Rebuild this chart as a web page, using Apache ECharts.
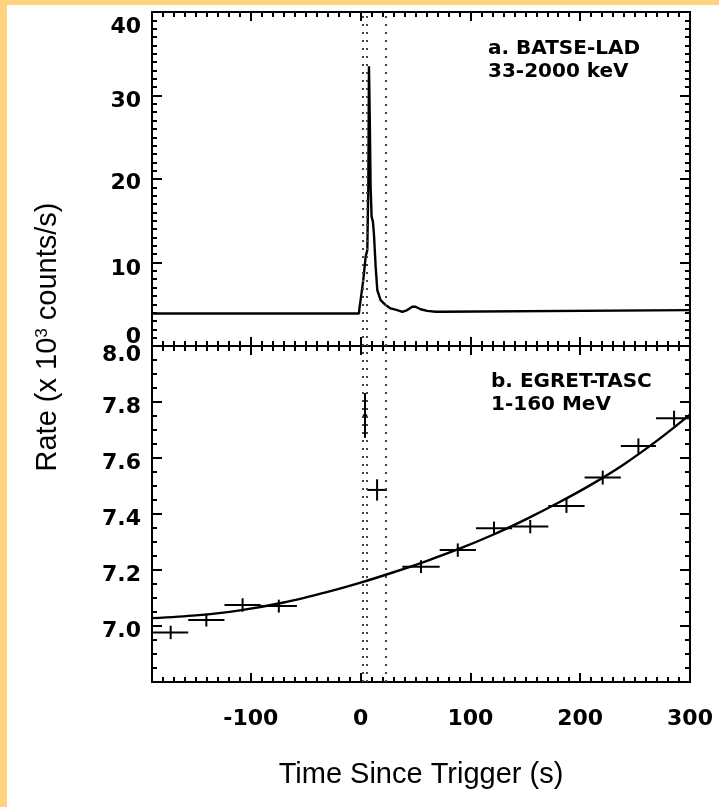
<!DOCTYPE html>
<html>
<head>
<meta charset="utf-8">
<script src="https://cdn.jsdelivr.net/npm/echarts@6/dist/echarts.min.js"></script>
<style>
  html, body { margin: 0; padding: 0; background: #fff; }
  #frame { position: absolute; left: 0; top: 0; width: 719px; height: 807px; background: #FFD47F; }
  #chart { position: absolute; left: 7px; top: 5px; width: 712px; height: 802px; background: #fff; }
</style>
</head>
<body>
<div id="frame"><div id="chart"></div></div>
<script>
// ---- BATSE-LAD light curve (33-2000 keV), 10^3 counts/s ----
const batseTime = [-190, -1.5, -1.0, 0, 2.4, 4.6, 6.1, 7.0, 7.6, 8.4, 8.7, 9.1, 10, 11.2, 12.1, 13.7, 15.2, 18.2, 22.8, 27.3, 33.4, 38, 42.5, 47, 50, 54.6, 60.7, 68.3, 72.8, 73.5, 300];
const batseRate = [3.9, 3.9, 4.6, 5.5, 7.9, 10.7, 11.5, 19.1, 33.5, 26.7, 26.7, 19.1, 15.5, 14.9, 13.5, 9.5, 6.7, 5.5, 4.9, 4.5, 4.3, 4.1, 4.3, 4.7, 4.7, 4.4, 4.2, 4.1, 4.1, 4.3, 4.3];

// ---- EGRET-TASC (1-160 MeV) binned rates with errors ----
const egretStart = [-189, -157, -124, -91, 2, 6, 38, 72, 105, 138, 171, 204, 237, 269];
const egretEnd   = [-157, -124, -91, -58, 6, 24, 72, 105, 138, 171, 204, 237, 269, 302];
const egretRate  = [6.977, 7.021, 7.075, 7.071, 7.752, 7.486, 7.212, 7.271, 7.349, 7.355, 7.429, 7.530, 7.643, 7.742];
const egretErr   = [0.024, 0.023, 0.024, 0.023, 0.080, 0.038, 0.023, 0.024, 0.024, 0.024, 0.025, 0.025, 0.027, 0.027];

// ---- background fit through the EGRET rates ----
const fitTime = [-190, -150, -110, -70, -30, 0, 30, 60, 90, 120, 150, 180, 210, 240, 270, 300];
const fitRate = [7.028, 7.038, 7.056, 7.084, 7.122, 7.155, 7.192, 7.232, 7.276, 7.325, 7.38, 7.44, 7.505, 7.578, 7.662, 7.755];

// ---- interval markers (s) ----
const markerTimes = [2, 6, 23];

// ---- ticks ----
const timeTicks = [-100, 0, 100, 200, 300];
const timeMin = -190, timeMax = 300;

const TICK_FONT = '"DejaVu Sans", Verdana, sans-serif';
const TITLE_FONT = '"Liberation Sans", Arial, Helvetica, sans-serif';
const BLACK = '#000';

function tok(shift) {
  // vertical nudge of a tick label: positive moves it down
  const p = Math.abs(shift) * 2;
  return {
    fontSize: 22, fontWeight: 'bold', fontFamily: TICK_FONT, color: BLACK,
    padding: shift >= 0 ? [p, 0, 0, 0] : [0, 0, p, 0]
  };
}

function xAxes(grid, pos, labels) {
  const major = {
    type: 'value', gridIndex: grid, position: pos, min: timeMin, max: timeMax,
    axisLine: { show: false, onZero: false },
    splitLine: { show: false },
    axisTick: { show: true, inside: true, length: 9, customValues: timeTicks,
                lineStyle: { color: BLACK, width: 2 } },
    axisLabel: { show: labels, customValues: timeTicks, margin: 26,
                 fontSize: 22, fontWeight: 'bold', fontFamily: TICK_FONT, color: BLACK,
                 formatter: v => String(v) }
  };
  const minor = {
    type: 'value', gridIndex: grid, position: pos, min: timeMin, max: timeMax, interval: 10,
    axisLine: { show: false, onZero: false },
    splitLine: { show: false },
    axisTick: { show: true, inside: true, length: 5, lineStyle: { color: BLACK, width: 2 } },
    axisLabel: { show: false }
  };
  return [major, minor];
}

function yAxis(grid, pos, min, max, interval, split, labelCfg) {
  return {
    type: 'value', gridIndex: grid, position: pos, min: min, max: max, interval: interval,
    axisLine: { show: false, onZero: false },
    splitLine: { show: false },
    axisTick: { show: true, inside: true, length: 10, lineStyle: { color: BLACK, width: 2 } },
    minorTick: { show: true, splitNumber: split, length: 5, lineStyle: { color: BLACK, width: 2 } },
    axisLabel: labelCfg || { show: false }
  };
}

const topLabels = {
  show: true, margin: 11,
  formatter: v => {
    const k = { 40: 'a', 30: 'b', 20: 'c', 10: 'd', 0: 'e' }[Math.round(v)];
    return '{' + k + '|' + Math.round(v) + '}';
  },
  rich: { a: tok(15), b: tok(6), c: tok(4), d: tok(7), e: tok(-9) }
};

const bottomLabels = {
  show: true, margin: 11,
  formatter: v => {
    if (v < 6.9) return '';
    const k = v > 7.95 ? 'h' : 'g';
    return '{' + k + '|' + v.toFixed(1) + '}';
  },
  rich: { g: tok(5), h: tok(9) }
};

const lineData = (xs, ys) => xs.map((x, i) => [x, ys[i]]);
const crossData = egretStart.map((s, i) => [s, egretEnd[i], egretRate[i], egretRate[i] - egretErr[i], egretRate[i] + egretErr[i]]);

const markers = {
  silent: true, symbol: 'none', animation: false,
  label: { show: false },
  lineStyle: { type: [2, 6], color: '#444', width: 2 },
  data: markerTimes.map(t => ({ xAxis: t }))
};

const grid0 = { left: 145, top: 7, width: 538, height: 334, show: true, borderColor: BLACK, borderWidth: 2, backgroundColor: 'transparent' };
const grid1 = { left: 145, top: 341, width: 538, height: 336, show: true, borderColor: BLACK, borderWidth: 2, backgroundColor: 'transparent' };

const xs = [].concat(
  xAxes(0, 'bottom', false), xAxes(0, 'top', false),
  xAxes(1, 'bottom', true), xAxes(1, 'top', false)
);
xs[4].name = 'Time Since Trigger (s)';
xs[4].nameLocation = 'middle';
xs[4].nameGap = 78;
xs[4].nameTextStyle = { fontSize: 29, fontFamily: TITLE_FONT, color: BLACK };

const option = {
  animation: false,
  backgroundColor: '#fff',
  grid: [grid0, grid1],
  xAxis: xs,
  yAxis: [
    yAxis(0, 'left', 0, 40, 10, 10, topLabels),
    yAxis(0, 'right', 0, 40, 10, 10),
    yAxis(1, 'left', 6.8, 8.0, 0.2, 4, bottomLabels),
    yAxis(1, 'right', 6.8, 8.0, 0.2, 4)
  ],
  series: [
    {
      name: 'BATSE-LAD', type: 'line', xAxisIndex: 0, yAxisIndex: 0,
      data: lineData(batseTime, batseRate),
      showSymbol: false, lineStyle: { color: BLACK, width: 2.4 },
      markLine: markers
    },
    {
      name: 'fit', type: 'line', xAxisIndex: 4, yAxisIndex: 2,
      data: lineData(fitTime, fitRate), smooth: 0.3,
      showSymbol: false, lineStyle: { color: BLACK, width: 2.4 },
      markLine: markers
    },
    {
      name: 'EGRET-TASC', type: 'custom', xAxisIndex: 4, yAxisIndex: 2, clip: true,
      data: crossData,
      encode: { x: [0, 1], y: [2, 3, 4] },
      renderItem: (params, api) => {
        const t0 = api.value(0), t1 = api.value(1), r = api.value(2);
        const tc = (t0 + t1) / 2;
        const a = api.coord([t0, r]), b = api.coord([t1, r]);
        const c = api.coord([tc, api.value(3)]), d = api.coord([tc, api.value(4)]);
        const st = { stroke: BLACK, lineWidth: 2 };
        return {
          type: 'group',
          children: [
            { type: 'line', shape: { x1: a[0], y1: a[1], x2: b[0], y2: b[1] }, style: st },
            { type: 'line', shape: { x1: c[0], y1: c[1], x2: d[0], y2: d[1] }, style: st }
          ]
        };
      }
    }
  ],
  graphic: [
    {
      type: 'text', x: 41, y: 332, rotation: Math.PI / 2,
      style: {
        text: '{n|Rate (x 10}{s|3}{n| counts/s)}',
        align: 'center', verticalAlign: 'middle',
        rich: {
          n: { fontSize: 29, fontFamily: TITLE_FONT, fill: BLACK },
          s: { fontSize: 17, fontFamily: TITLE_FONT, fill: BLACK, verticalAlign: 'top' }
        }
      }
    },
    {
      type: 'text', x: 481, y: 32,
      style: { text: 'a. BATSE-LAD\n33-2000 keV', fontSize: 20, fontWeight: 'bold', fontFamily: TICK_FONT, fill: BLACK, lineHeight: 23 }
    },
    {
      type: 'text', x: 484, y: 365,
      style: { text: 'b. EGRET-TASC\n1-160 MeV', fontSize: 20, fontWeight: 'bold', fontFamily: TICK_FONT, fill: BLACK, lineHeight: 23 }
    }
  ]
};

const chart = echarts.init(document.getElementById('chart'), null, { renderer: 'canvas' });
chart.setOption(option);
</script>
</body>
</html>
